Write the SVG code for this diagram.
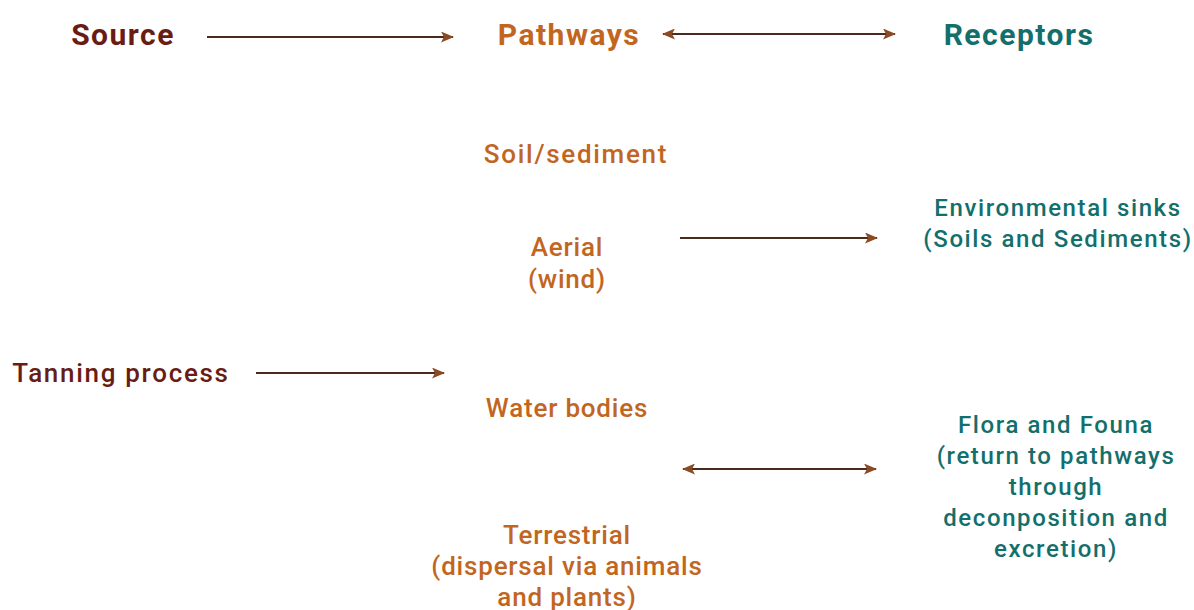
<svg xmlns="http://www.w3.org/2000/svg" width="1194" height="610" viewBox="0 0 1194 610">
<style>
text{font-family:Roboto,"Liberation Sans",sans-serif;text-anchor:middle}
.h{font-size:30px;font-weight:700;letter-spacing:1.5px}
.b{font-size:26px;font-weight:500;letter-spacing:1.7px}
.n{letter-spacing:0.8px}
.t{font-size:24px;font-weight:500;letter-spacing:1.6px}
.src{fill:#6a1c14}
.pw{fill:#c2661f}
.rc{fill:#136f6c}
.c{stroke:#4a2a1a;stroke-width:2.2;fill:none}
</style>
<defs>
<marker id="ah" viewBox="0 0 13 11" refX="12" refY="5.5" markerWidth="13" markerHeight="11" markerUnits="userSpaceOnUse" orient="auto-start-reverse">
<path d="M0,0 L13,5.5 L0,11 L3,5.5 Z" fill="#8a4a22"/>
</marker>
</defs>
<rect width="1194" height="610" fill="#fff"/>
<g id="connectors">
<line class="c" x1="207" y1="37" x2="453" y2="37" marker-end="url(#ah)"/>
<line class="c" x1="663" y1="34" x2="895" y2="34" marker-start="url(#ah)" marker-end="url(#ah)"/>
<line class="c" x1="680" y1="238" x2="877" y2="238" marker-end="url(#ah)"/>
<line class="c" x1="256" y1="373" x2="444" y2="373" marker-end="url(#ah)"/>
<line class="c" x1="683" y1="469" x2="876" y2="469" marker-start="url(#ah)" marker-end="url(#ah)"/>
</g>
<g id="source"><text class="h src" x="123" y="45">Source</text></g>
<g id="pathways"><text class="h pw" x="569" y="45">Pathways</text></g>
<g id="receptors"><text class="h rc" x="1019" y="45">Receptors</text></g>
<g id="soil"><text class="b pw" x="576" y="163">Soil/sediment</text></g>
<g id="aerial"><text class="b n pw" x="567" y="256">Aerial</text><text class="b n pw" x="567" y="288">(wind)</text></g>
<g id="sinks"><text class="t rc" x="1058" y="216">Environmental sinks</text><text class="t rc" x="1058" y="247">(Soils and Sediments)</text></g>
<g id="tanning"><text class="b src" x="121" y="382">Tanning process</text></g>
<g id="water"><text class="b n pw" x="567" y="417">Water bodies</text></g>
<g id="flora"><text class="t rc" x="1056" y="433">Flora and Founa</text><text class="t rc" x="1056" y="464">(return to pathways</text><text class="t rc" x="1056" y="495">through</text><text class="t rc" x="1056" y="526">deconposition and</text><text class="t rc" x="1056" y="557">excretion)</text></g>
<g id="terrestrial"><text class="b n pw" x="567" y="544">Terrestrial</text><text class="b n pw" x="567" y="575">(dispersal via animals</text><text class="b n pw" x="567" y="606">and plants)</text></g>
</svg>
